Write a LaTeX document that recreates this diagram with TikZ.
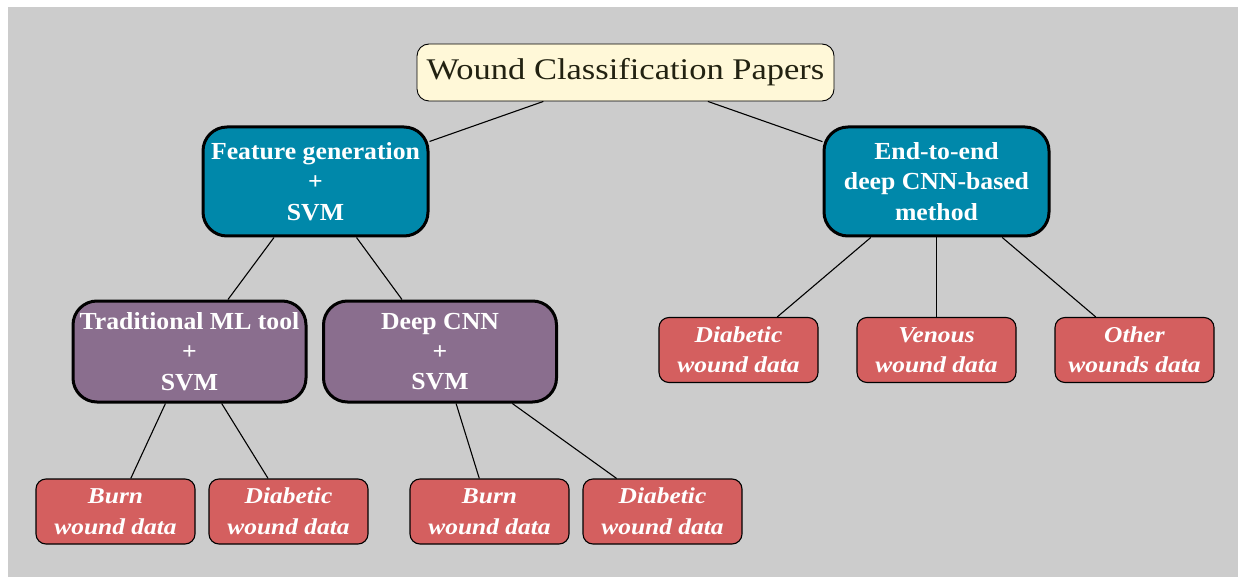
\documentclass[tikz,border=0pt]{standalone}
\usepackage{fontspec}
\setmainfont{Liberation Serif}
\newfontfamily\rootfont[FakeStretch=1.15]{Liberation Serif}
\newfontfamily\midfont[FakeStretch=1.05]{Liberation Serif}
\newfontfamily\datafont[FakeStretch=1.12]{Liberation Serif}
\definecolor{bggray}{HTML}{CCCCCC}
\definecolor{cream}{HTML}{FFF8D8}
\definecolor{tealbox}{HTML}{0088AA}
\definecolor{purplebox}{HTML}{8A6E8E}
\definecolor{redbox}{HTML}{D45F5F}
\definecolor{darktext}{HTML}{222211}
\tikzset{
  rootbox/.style={draw=black, line width=0.9pt, fill=cream, rounded corners=12pt,
    minimum width=417pt, minimum height=57pt, text=darktext,
    font=\rootfont\fontsize{30}{32}\selectfont},
  midbox/.style={draw=black, line width=3pt, rounded corners=24pt, align=center,
    text=white, font=\midfont\bfseries\fontsize{24.5}{30.2}\selectfont, inner sep=0pt},
  featbox/.style={midbox, fill=tealbox, minimum width=225pt, minimum height=109pt},
  toolbox/.style={midbox, fill=purplebox, minimum width=233pt, minimum height=101pt},
  databox/.style={draw=black, line width=1.1pt, fill=redbox, rounded corners=10pt,
    minimum width=159pt, minimum height=65pt, align=center, text=white, inner sep=0pt,
    font=\datafont\bfseries\itshape\fontsize{22.7}{30.5}\selectfont},
  edge/.style={draw=black, line width=1.1pt}
}
\begin{document}
\begin{tikzpicture}[x=1pt,y=-1pt]
\useasboundingbox (0,0) rectangle (1238,577);
\fill[bggray] (8,7) rectangle (1238,577);
\node[rootbox] (root) at (625.5,72.5) {Wound Classification Papers};
\node[featbox] (feat) at (315.5,181.5) {Feature generation\\+\\SVM};
\node[featbox] (e2e) at (936.5,181.5) {End-to-end\\deep CNN-based\\method};
\node[toolbox] (trad) at (189.5,351.5) {Traditional ML tool\\+\\SVM};
\node[toolbox] (deep) at (440,351.5) {Deep CNN\\+\\SVM};
\node[databox] (burnA) at (115.5,511.5) {Burn\\wound data};
\node[databox] (diabA) at (288.5,511.5) {Diabetic\\wound data};
\node[databox] (burnB) at (489.5,511.5) {Burn\\wound data};
\node[databox] (diabB) at (662.5,511.5) {Diabetic\\wound data};
\node[databox] (diabC) at (738.5,350) {Diabetic\\wound data};
\node[databox] (venC) at (936.5,350) {Venous\\wound data};
\node[databox] (othC) at (1134.5,350) {Other\\wounds data};
\draw[edge] (root) -- (feat);
\draw[edge] (root) -- (e2e);
\draw[edge] (feat) -- (trad);
\draw[edge] (feat) -- (deep);
\draw[edge] (trad) -- (burnA);
\draw[edge] (trad) -- (diabA);
\draw[edge] (deep) -- (burnB);
\draw[edge] (deep) -- (diabB);
\draw[edge] (e2e) -- (diabC);
\draw[edge] (e2e) -- (venC);
\draw[edge] (e2e) -- (othC);
\end{tikzpicture}
\end{document}
